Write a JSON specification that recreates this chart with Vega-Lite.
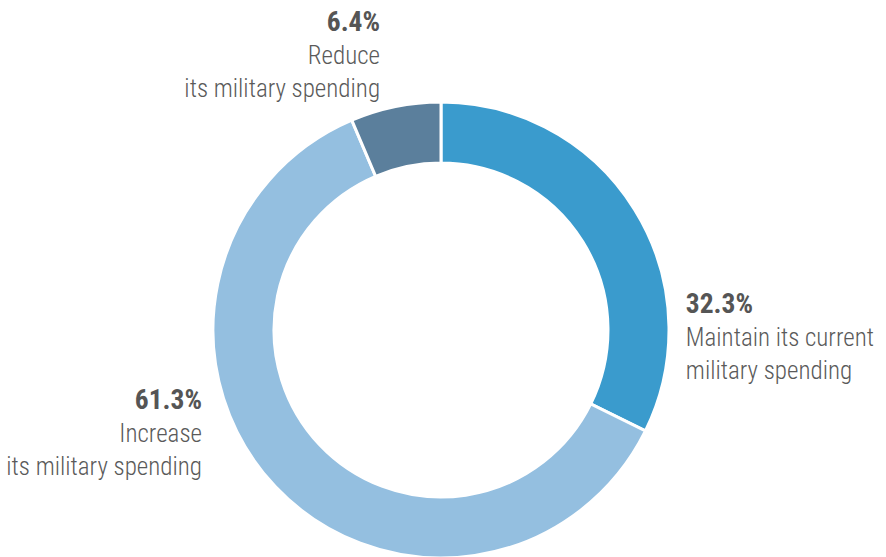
{
  "$schema": "https://vega.github.io/schema/vega-lite/v6.json",
  "autosize": "none",
  "width": 882,
  "height": 660,
  "padding": 0,
  "background": "white",
  "config": {"view": {"stroke": null}, "text": {"font": "Roboto Condensed, DejaVu Sans Condensed, sans-serif", "fontSize": 25, "lineHeight": 33}},
  "data": {"values": [
    {"rank": 1, "category": "Maintain", "pct": 32.3, "pctLabel": "32.3%", "desc": ["Maintain its current", "military spending"]},
    {"rank": 2, "category": "Increase", "pct": 61.3, "pctLabel": "61.3%", "desc": ["Increase", "its military spending"]},
    {"rank": 3, "category": "Reduce", "pct": 6.4, "pctLabel": "6.4%", "desc": ["Reduce", "its military spending"]}
  ]},
  "encoding": {
    "theta": {"field": "pct", "type": "quantitative", "stack": true},
    "order": {"field": "rank", "type": "quantitative"}
  },
  "layer": [
    {
      "mark": {"type": "arc", "innerRadius": 167, "outerRadius": 228, "stroke": "white", "strokeWidth": 3},
      "encoding": {
        "color": {"field": "category", "type": "nominal", "legend": null,
          "scale": {"domain": ["Maintain", "Increase", "Reduce"], "range": ["#3a9bcd", "#94bfe0", "#5b7f9c"]}}
      }
    },
    {
      "mark": {"type": "text", "radius": 260, "align": "left", "baseline": "alphabetic", "fontWeight": "bold", "fontSize": 27.5, "fill": "#555555", "dx": 24, "dy": 120},
      "encoding": {"text": {"condition": {"test": "datum.category === 'Maintain'", "field": "pctLabel"}, "value": ""}}
    },
    {
      "mark": {"type": "text", "radius": 260, "align": "left", "baseline": "alphabetic", "fontWeight": 300, "fill": "#5a5a5a", "dx": 24, "dy": 153},
      "encoding": {"text": {"condition": {"test": "datum.category === 'Maintain'", "field": "desc"}, "value": ""}}
    },
    {
      "mark": {"type": "text", "radius": 260, "align": "right", "baseline": "alphabetic", "fontWeight": "bold", "fontSize": 27.5, "fill": "#555555", "dx": -50, "dy": -100},
      "encoding": {"text": {"condition": {"test": "datum.category === 'Increase'", "field": "pctLabel"}, "value": ""}}
    },
    {
      "mark": {"type": "text", "radius": 260, "align": "right", "baseline": "alphabetic", "fontWeight": 300, "fill": "#5a5a5a", "dx": -50, "dy": -67},
      "encoding": {"text": {"condition": {"test": "datum.category === 'Increase'", "field": "desc"}, "value": ""}}
    },
    {
      "mark": {"type": "text", "radius": 260, "align": "right", "baseline": "alphabetic", "fontWeight": "bold", "fontSize": 27.5, "fill": "#555555", "dx": -9, "dy": -44},
      "encoding": {"text": {"condition": {"test": "datum.category === 'Reduce'", "field": "pctLabel"}, "value": ""}}
    },
    {
      "mark": {"type": "text", "radius": 260, "align": "right", "baseline": "alphabetic", "fontWeight": 300, "fill": "#5a5a5a", "dx": -9, "dy": -11},
      "encoding": {"text": {"condition": {"test": "datum.category === 'Reduce'", "field": "desc"}, "value": ""}}
    }
  ]
}
